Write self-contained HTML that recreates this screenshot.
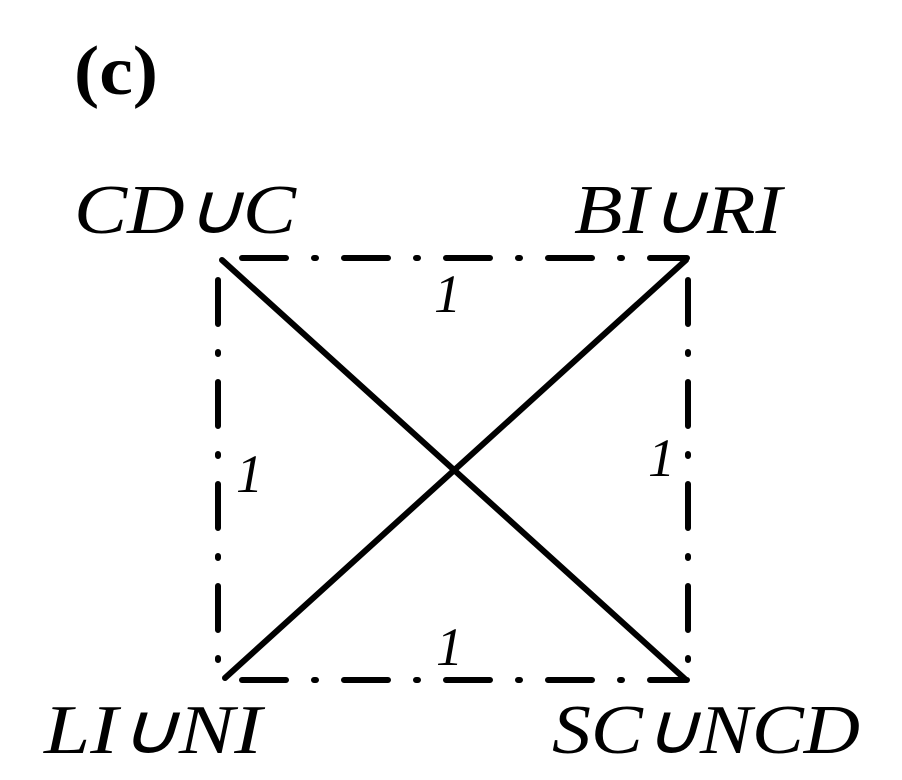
<!DOCTYPE html>
<html><head><style>
html,body{margin:0;padding:0;background:#fff;width:902px;height:780px;overflow:hidden}
</style></head><body>
<svg width="902" height="780" xmlns="http://www.w3.org/2000/svg" font-family="Liberation Serif, serif">
<rect width="902" height="780" fill="#fff"/>
<text x="74" y="94" font-size="70" font-weight="bold" textLength="84" lengthAdjust="spacingAndGlyphs">(c)</text>
<g font-style="italic" font-size="70" fill="#000">
<text x="74" y="233" textLength="222" lengthAdjust="spacingAndGlyphs">CD∪C</text>
<text x="574" y="233" textLength="208" lengthAdjust="spacingAndGlyphs">BI∪RI</text>
<text x="44" y="753" textLength="218" lengthAdjust="spacingAndGlyphs">LI∪NI</text>
<text x="552" y="753" textLength="308" lengthAdjust="spacingAndGlyphs">SC∪NCD</text>
</g>
<g font-style="italic" font-size="54">
<text x="434" y="312">1</text>
<text x="236" y="492">1</text>
<text x="648" y="476">1</text>
<text x="436" y="665">1</text>
</g>
<g stroke="#000" stroke-width="6" fill="none" stroke-linecap="round" stroke-dasharray="44 28 2 28" stroke-dashoffset="-22">
<line x1="220" y1="258" x2="687" y2="258"/>
<line x1="218" y1="258" x2="218" y2="680"/>
<line x1="688" y1="258" x2="688" y2="680"/>
<line x1="220" y1="680" x2="687" y2="680"/>
</g>
<g stroke="#000" stroke-width="6" stroke-linecap="round">
<line x1="222" y1="260" x2="685" y2="679"/>
<line x1="686" y1="260" x2="225" y2="678"/>
</g>
</svg>
</body></html>
